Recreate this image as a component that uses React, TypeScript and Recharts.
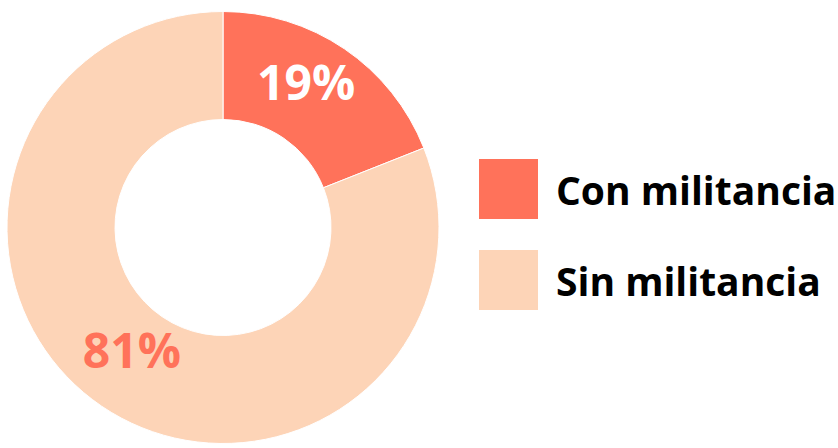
import React from 'react';
import { PieChart, Pie, Cell, Legend } from 'recharts';

const categories = ['Con militancia', 'Sin militancia'];
const shares = [19, 81];
const COLORS = ['#FF725A', '#FDD4B7'];
const LABEL_COLORS = ['#ffffff', '#FF725A'];

const data = categories.map((name, i) => ({ name, value: shares[i] }));

const RADIAN = Math.PI / 180;

function renderLabel(props: any) {
  const { cx, cy, midAngle, index, value } = props;
  const r = 162;
  const x = cx + r * Math.cos(-midAngle * RADIAN) - (index === 0 ? 8 : 0);
  const y = cy + r * Math.sin(-midAngle * RADIAN) - 12;
  return (
    <text
      x={x}
      y={y}
      fill={LABEL_COLORS[index]}
      textAnchor="middle"
      dominantBaseline="central"
      fontFamily="'Open Sans', sans-serif"
      fontWeight={700}
      fontSize={48}
    >
      {value}%
    </text>
  );
}

function LegendContent() {
  return (
    <div>
      {categories.map((name, i) => (
        <div
          key={name}
          style={{ display: 'flex', alignItems: 'center', height: 60, marginBottom: 31 }}
        >
          <div style={{ width: 59, height: 60, background: COLORS[i], marginRight: 18 }} />
          <span
            style={{
              fontFamily: "'Open Sans', sans-serif",
              fontWeight: 700,
              fontSize: 39,
              color: '#000',
              whiteSpace: 'nowrap',
            }}
          >
            {name}
          </span>
        </div>
      ))}
    </div>
  );
}

export default function App() {
  return (
    <div style={{ position: 'absolute', left: 0, top: 0, background: '#fff' }}>
      <PieChart width={838} height={448} margin={{ top: 0, right: 0, bottom: 0, left: 0 }}>
        <Pie
          data={data}
          dataKey="value"
          cx={223}
          cy={227.5}
          outerRadius={216}
          innerRadius={108}
          startAngle={90}
          endAngle={-270}
          stroke="#fff"
          strokeWidth={1}
          label={renderLabel}
          labelLine={false}
          isAnimationActive={false}
        >
          {data.map((d, i) => (
            <Cell key={d.name} fill={COLORS[i]} />
          ))}
        </Pie>
        <Legend
          content={<LegendContent />}
          wrapperStyle={{ position: 'absolute', left: 479, top: 159, width: 360 }}
        />
      </PieChart>
    </div>
  );
}
